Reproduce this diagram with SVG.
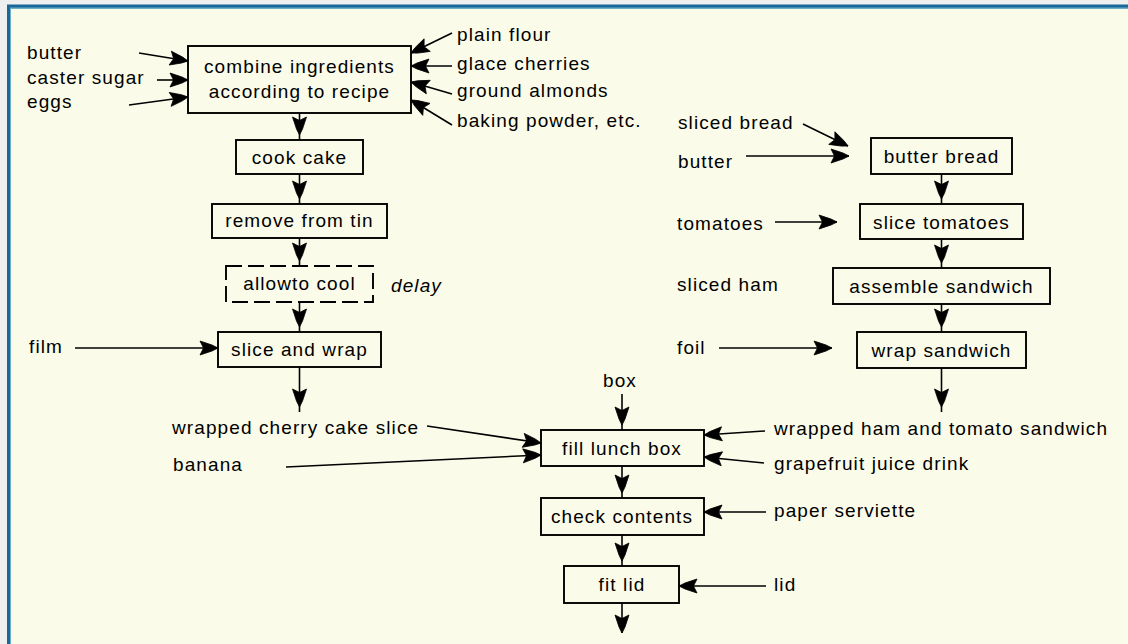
<svg xmlns="http://www.w3.org/2000/svg" width="1128" height="644" viewBox="0 0 1128 644">
<style>
.t{font-family:"Liberation Sans",Arial,sans-serif;font-size:19px;letter-spacing:1.1px;fill:#000}
.c{text-anchor:middle}
.i{font-style:italic}
.box{fill:none;stroke:#000;stroke-width:1.9}
.dash{stroke-dasharray:16 6}
.ln{fill:none;stroke:#000;stroke-width:1.6}
.hd{fill:#000;stroke:#000;stroke-width:0.8;stroke-linejoin:miter}
</style>
<defs>
<marker id="ah" markerUnits="userSpaceOnUse" viewBox="-20 -9 22 18" markerWidth="22" markerHeight="18" refX="0" refY="0" orient="auto">
<path class="hd" d="M0,0 L-6,-3 L-18,-7 L-14.5,0 L-18,7 L-6,3 Z"/>
</marker>
<marker id="ahs" markerUnits="userSpaceOnUse" viewBox="-20 -9 28 18" markerWidth="28" markerHeight="18" refX="5" refY="0" orient="auto">
<path class="hd" d="M0,0 L-6,-3 L-18,-7 L-14.5,0 L-18,7 L-6,3 Z"/>
</marker>
</defs>
<rect x="0" y="0" width="1128" height="644" fill="#efefef"/>
<rect x="7" y="4.5" width="1121" height="639.5" fill="#1a679c"/>
<rect x="10" y="7.5" width="1118" height="636.5" fill="#6fb0c8"/>
<rect x="11" y="9" width="1117" height="635" fill="#fbfbe9"/>

<g id="connectors">
<line class="ln" x1="139" y1="53" x2="188" y2="61" marker-end="url(#ah)"/>
<line class="ln" x1="157" y1="80" x2="188" y2="80" marker-end="url(#ah)"/>
<line class="ln" x1="129" y1="105" x2="188" y2="97" marker-end="url(#ah)"/>
<line class="ln" x1="452" y1="33" x2="411" y2="53" marker-end="url(#ah)"/>
<line class="ln" x1="452" y1="66" x2="411" y2="66" marker-end="url(#ah)"/>
<line class="ln" x1="452" y1="94" x2="411" y2="82" marker-end="url(#ah)"/>
<line class="ln" x1="452" y1="125" x2="411" y2="100" marker-end="url(#ah)"/>
<line class="ln" x1="299.5" y1="113" x2="299.5" y2="140" marker-end="url(#ahs)"/>
<line class="ln" x1="299.5" y1="174" x2="299.5" y2="204" marker-end="url(#ahs)"/>
<line class="ln" x1="299.5" y1="238" x2="299.5" y2="266" marker-end="url(#ahs)"/>
<line class="ln" x1="299.5" y1="302" x2="299.5" y2="332" marker-end="url(#ahs)"/>
<line class="ln" x1="75" y1="348" x2="218" y2="348" marker-end="url(#ah)"/>
<line class="ln" x1="299.5" y1="367" x2="299.5" y2="412" marker-end="url(#ahs)"/>
<line class="ln" x1="427" y1="426" x2="541" y2="443" marker-end="url(#ah)"/>
<line class="ln" x1="286" y1="467" x2="541" y2="455" marker-end="url(#ah)"/>
<line class="ln" x1="622" y1="394" x2="622" y2="430" marker-end="url(#ahs)"/>
<line class="ln" x1="765" y1="431" x2="704" y2="435" marker-end="url(#ah)"/>
<line class="ln" x1="764" y1="463" x2="704" y2="457" marker-end="url(#ah)"/>
<line class="ln" x1="622" y1="466" x2="622" y2="498" marker-end="url(#ahs)"/>
<line class="ln" x1="766" y1="512" x2="704" y2="512" marker-end="url(#ah)"/>
<line class="ln" x1="622" y1="535" x2="622" y2="566" marker-end="url(#ahs)"/>
<line class="ln" x1="766" y1="586" x2="679" y2="586" marker-end="url(#ah)"/>
<line class="ln" x1="622" y1="603" x2="622" y2="633" marker-end="url(#ah)"/>
<line class="ln" x1="803" y1="124" x2="848" y2="146" marker-end="url(#ah)"/>
<line class="ln" x1="746" y1="156" x2="849" y2="156" marker-end="url(#ah)"/>
<line class="ln" x1="941.5" y1="174" x2="941.5" y2="204" marker-end="url(#ahs)"/>
<line class="ln" x1="775" y1="222" x2="837" y2="222" marker-end="url(#ah)"/>
<line class="ln" x1="941.5" y1="239" x2="941.5" y2="268" marker-end="url(#ahs)"/>
<line class="ln" x1="941.5" y1="304" x2="941.5" y2="332" marker-end="url(#ahs)"/>
<line class="ln" x1="719" y1="348" x2="832" y2="348" marker-end="url(#ah)"/>
<line class="ln" x1="941.5" y1="368" x2="941.5" y2="412" marker-end="url(#ahs)"/>
</g>

<g id="combine"><rect class="box" x="188" y="46" width="223" height="67"/><text class="t c" x="299.5" y="73">combine ingredients</text><text class="t c" x="299.5" y="98">according to recipe</text></g>
<g id="cook-cake"><rect class="box" x="236" y="140" width="127" height="34"/><text class="t c" x="299.5" y="164">cook cake</text></g>
<g id="remove-from-tin"><rect class="box" x="212" y="204" width="175" height="34"/><text class="t c" x="299.5" y="227">remove from tin</text></g>
<g id="allow-to-cool"><rect class="box dash" x="226" y="266" width="147" height="36"/><text class="t c" x="299.5" y="290">allowto cool</text></g>
<g id="delay"><text class="t i" x="391" y="292">delay</text></g>
<g id="slice-and-wrap"><rect class="box" x="218" y="332" width="163" height="35"/><text class="t c" x="299.5" y="356">slice and wrap</text></g>
<g id="fill-lunch-box"><rect class="box" x="541" y="430" width="163" height="36"/><text class="t c" x="622" y="455">fill lunch box</text></g>
<g id="check-contents"><rect class="box" x="541" y="498" width="163" height="37"/><text class="t c" x="622" y="523">check contents</text></g>
<g id="fit-lid"><rect class="box" x="564" y="566" width="115" height="37"/><text class="t c" x="622" y="591">fit lid</text></g>
<g id="butter-bread"><rect class="box" x="871" y="138" width="141" height="36"/><text class="t c" x="941.5" y="163">butter bread</text></g>
<g id="slice-tomatoes"><rect class="box" x="860" y="204" width="163" height="35"/><text class="t c" x="941.5" y="229">slice tomatoes</text></g>
<g id="assemble-sandwich"><rect class="box" x="833" y="268" width="217" height="36"/><text class="t c" x="941.5" y="293">assemble sandwich</text></g>
<g id="wrap-sandwich"><rect class="box" x="857" y="332" width="169" height="36"/><text class="t c" x="941.5" y="357">wrap sandwich</text></g>

<g id="inputs">
<text class="t" x="27" y="59">butter</text>
<text class="t" x="27" y="84">caster sugar</text>
<text class="t" x="27" y="108">eggs</text>
<text class="t" x="457" y="41">plain flour</text>
<text class="t" x="457" y="70">glace cherries</text>
<text class="t" x="457" y="97">ground almonds</text>
<text class="t" x="457" y="127">baking powder, etc.</text>
<text class="t" x="29" y="353">film</text>
<text class="t" x="172" y="434">wrapped cherry cake slice</text>
<text class="t" x="173" y="471">banana</text>
<text class="t c" x="620" y="387">box</text>
<text class="t" x="774" y="435">wrapped ham and tomato sandwich</text>
<text class="t" x="774" y="470">grapefruit juice drink</text>
<text class="t" x="774" y="517">paper serviette</text>
<text class="t" x="774" y="591">lid</text>
<text class="t" x="678" y="129">sliced bread</text>
<text class="t" x="678" y="168">butter</text>
<text class="t" x="677" y="230">tomatoes</text>
<text class="t" x="677" y="291">sliced ham</text>
<text class="t" x="677" y="354">foil</text>
</g>
</svg>
